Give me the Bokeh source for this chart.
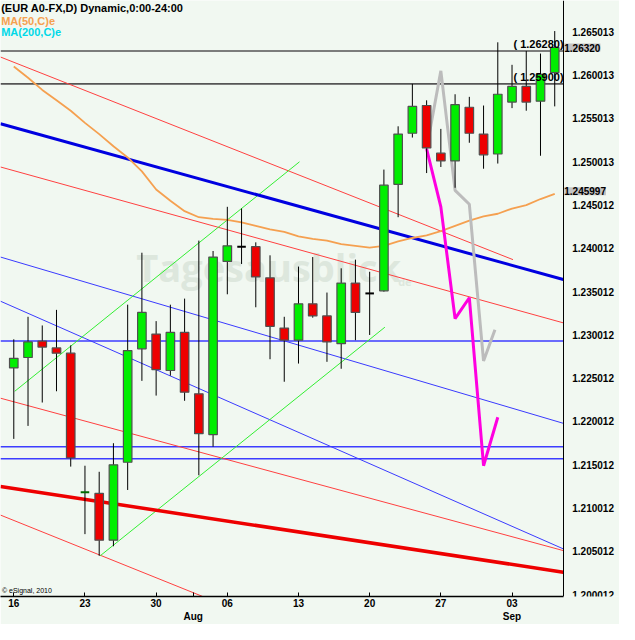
from bokeh.plotting import figure
from bokeh.models import FixedTicker, Label, Range1d, PrintfTickFormatter, LinearAxis
from bokeh.embed import file_html
from bokeh.resources import INLINE

# ---- data (bar index 0 = Fri 16 Jul 2010) ----
bar_idx = list(range(39))
opens = [1.2262, 1.2274, 1.2293, 1.2285, 1.2279, 1.2118, 1.2117, 1.2063, 1.2153, 1.2284,
         1.2301, 1.2259, 1.2303, 1.2232, 1.2185, 1.2385, 1.2402, 1.2402, 1.2366, 1.2308,
         1.2294, 1.2336, 1.2322, 1.2290, 1.2360, 1.2348, 1.2351, 1.2474, 1.2533, 1.2565,
         1.2510, 1.2501, 1.2563, 1.2532, 1.2509, 1.2569, 1.2587, 1.2570, 1.2603]
highs = [1.2295, 1.2321, 1.2311, 1.2329, 1.2288, 1.2149, 1.2142, 1.2175, 1.2335, 1.2395,
         1.2316, 1.2335, 1.2342, 1.2409, 1.2397, 1.2448, 1.2446, 1.2407, 1.2392, 1.2321,
         1.2379, 1.2390, 1.2349, 1.2377, 1.2387, 1.2373, 1.2491, 1.2541, 1.2590, 1.2571,
         1.2538, 1.2578, 1.2575, 1.2565, 1.2638, 1.2612, 1.2628, 1.2625, 1.2651]
lows = [1.2180, 1.2195, 1.2222, 1.2235, 1.2148, 1.2070, 1.2045, 1.2056, 1.2121, 1.2247,
        1.2230, 1.2253, 1.2224, 1.2138, 1.2171, 1.2347, 1.2382, 1.2332, 1.2272, 1.2246,
        1.2267, 1.2320, 1.2269, 1.2261, 1.2294, 1.2300, 1.2350, 1.2436, 1.2528, 1.2487,
        1.2494, 1.2470, 1.2522, 1.2492, 1.2498, 1.2562, 1.2559, 1.2507, 1.2564]
closes = [1.2273, 1.2292, 1.2286, 1.2279, 1.2158, 1.2119, 1.2063, 1.2150, 1.2282, 1.2326,
          1.2260, 1.2303, 1.2234, 1.2186, 1.2390, 1.2403, 1.2402, 1.2367, 1.2310, 1.2294,
          1.2336, 1.2322, 1.2292, 1.2360, 1.2326, 1.2348, 1.2473, 1.2532, 1.2564, 1.2516,
          1.2501, 1.2566, 1.2533, 1.2508, 1.2578, 1.2587, 1.2569, 1.2601, 1.2632]
ma50 = [1.2610, 1.2597, 1.2583, 1.2571, 1.2559, 1.2545, 1.2532, 1.2518, 1.2505, 1.2489,
        1.2468, 1.2455, 1.2443, 1.2436, 1.2434, 1.2433, 1.2430, 1.2426, 1.2422, 1.2419,
        1.2414, 1.2411, 1.2409, 1.2405, 1.2403, 1.2401, 1.2403, 1.2408, 1.2412, 1.2415,
        1.2420, 1.2426, 1.2432, 1.2437, 1.2440, 1.2446, 1.2450, 1.2457, 1.2463]

x_ticks = [0, 5, 10, 12.6, 15, 20, 25, 30, 35]
x_tick_labels = ["16", "23", "30", "\nAug", "06", "13", "20", "27", "03\nSep"]
y_ticks = [1.265013, 1.260013, 1.255013, 1.250013, 1.245012, 1.240012, 1.235012,
           1.230012, 1.225012, 1.220012, 1.215012, 1.210012, 1.205012, 1.200012]

# trend lines: (x0, y0, x1, y1) in bar index / price
thick_blue = (-0.933, 1.2544, 38.6, 1.2364)
thick_red = (-0.933, 1.2125, 38.6, 1.2026)
thin_red = [(-0.933, 1.2621, 35.07, 1.2387),
            (-0.933, 1.2494, 38.6, 1.2314),
            (-0.933, 1.2227, 38.6, 1.2051),
            (-0.933, 1.2092, 13.27, 1.1998)]
thin_blue = [(-0.933, 1.2390, 38.6, 1.2198),
             (-0.933, 1.2339, 38.6, 1.2053)]
green_channel = [(0.07, 1.2235, 20.07, 1.2500),
                 (6.07, 1.2045, 26.07, 1.2309)]
blue_levels = [1.2293, 1.2171, 1.2157]
gray_levels = [1.2628, 1.2590]
gray_level_labels = ["( 1.26280)", "( 1.25900)"]
magenta_x = [29, 30, 31, 32, 33, 34]
magenta_y = [1.2515, 1.2448, 1.2319, 1.2343, 1.2149, 1.2205]
gray_x = [29, 30, 31, 32, 33, 33.8]
gray_y = [1.2515, 1.2605, 1.2467, 1.2451, 1.2270, 1.2306]
last_close_label = "1.26320"
ma_last_label = "1.245997"
ma_last_value = 1.2466

BG = "#f1f8f1"
X0, AXIS_X, X_END = -0.933, 38.6, 42.55
Y0, Y1 = 1.199798, 1.268628

p = figure(width=619, height=624, x_range=Range1d(X0, X_END), y_range=Range1d(Y0, Y1),
           y_axis_location=None, output_backend="svg", toolbar_location=None,
           background_fill_color=BG, border_fill_color=BG,
           min_border_left=0, min_border_top=0, min_border_right=0, min_border_bottom=0,
           outline_line_color=None)
p.grid.visible = False

# watermark
p.add_layout(Label(x=8.6, y=1.2378, text="Tagesausblick", text_font="Open Sans",
                   text_font_size="38px", text_font_style="bold", text_color="#dde7dd",
                   text_baseline="middle", level="underlay"))
p.add_layout(Label(x=27.0, y=1.2362, text="de", text_font="Open Sans",
                   text_font_size="11px", text_font_style="bold", text_color="#dde7dd",
                   text_baseline="middle", level="underlay"))

# levels
for lv in blue_levels:
    p.segment(x0=[X0], y0=[lv], x1=[AXIS_X], y1=[lv], line_color="#3d3dff", line_width=1.6)
for lv in gray_levels:
    p.segment(x0=[X0], y0=[lv], x1=[AXIS_X], y1=[lv], line_color="#555555", line_width=1.6)

# trend lines
for (a, b, c, d) in thin_red:
    p.segment(x0=[a], y0=[b], x1=[c], y1=[d], line_color="#ff4040", line_width=1)
for (a, b, c, d) in thin_blue:
    p.segment(x0=[a], y0=[b], x1=[c], y1=[d], line_color="#3a3aff", line_width=1)
for (a, b, c, d) in green_channel:
    p.segment(x0=[a], y0=[b], x1=[c], y1=[d], line_color="#33ee33", line_width=1)
p.segment(x0=[thick_blue[0]], y0=[thick_blue[1]], x1=[thick_blue[2]], y1=[thick_blue[3]],
          line_color="#0000e0", line_width=3)
p.segment(x0=[thick_red[0]], y0=[thick_red[1]], x1=[thick_red[2]], y1=[thick_red[3]],
          line_color="#ee0000", line_width=3.5)

# MA50
p.line(bar_idx, ma50, line_color="#f5a050", line_width=1.8)

# projections
p.line(gray_x, gray_y, line_color="#bcbcbc", line_width=3)
p.line(magenta_x, magenta_y, line_color="#ff00e0", line_width=3)

# candles
p.segment(x0=bar_idx, y0=lows, x1=bar_idx, y1=highs, line_color="#000000", line_width=1)
bx, bt, bb, bc = [], [], [], []
dx, dy, dc = [], [], []
for i, o, c in zip(bar_idx, opens, closes):
    if abs(c - o) < 0.00015:
        dx.append(i); dy.append((o + c) / 2)
        dc.append("#006a00" if c > o else "#000000")
    else:
        bx.append(i); bt.append(max(o, c)); bb.append(min(o, c))
        bc.append("#00ee00" if c > o else "#ee0000")
p.vbar(x=bx, top=bt, bottom=bb, width=0.6, fill_color=bc, line_color="#505050",
       line_width=1.2)
p.segment(x0=[x - 0.3 for x in dx], y0=dy, x1=[x + 0.3 for x in dx], y1=dy,
          line_color=dc, line_width=2)

# texts
FONT = "Liberation Sans"
p.add_layout(Label(x=X0 + 0.05, y=1.2684, text="(EUR A0-FX,D) Dynamic,0:00-24:00",
                   text_font=FONT, text_font_size="11px", text_font_style="bold",
                   text_color="#000000", text_baseline="top"))
p.add_layout(Label(x=X0 + 0.05, y=1.2670, text="MA(50,C)e", text_font=FONT,
                   text_font_size="11px", text_font_style="bold", text_color="#f5a050",
                   text_baseline="top"))
p.add_layout(Label(x=X0 + 0.05, y=1.26565, text="MA(200,C)e", text_font=FONT,
                   text_font_size="11px", text_font_style="bold", text_color="#00d8e8",
                   text_baseline="top"))
p.add_layout(Label(x=X0 + 0.1, y=1.2005, text="\u00a9 eSignal, 2010", text_font=FONT,
                   text_font_size="7px", text_color="#000000", text_baseline="middle"))
for lv, txt in zip(gray_levels, gray_level_labels):
    p.add_layout(Label(x=35.1, y=lv, y_offset=1, text=txt, text_font=FONT,
                       text_font_size="11px", text_font_style="bold", text_color="#000000",
                       text_baseline="bottom"))

# value boxes on the price axis
for val, txt in [(closes[-1], last_close_label), (ma_last_value, ma_last_label)]:
    p.add_layout(Label(x=AXIS_X, x_offset=1, y=val, text=txt, text_font=FONT,
                       text_font_size="10px", text_font_style="bold", text_color="#000000",
                       text_baseline="middle", background_fill_color="#c4c4c4",
                       level="overlay"))

# price axis (fixed inside the frame so the value boxes can sit on it)
ya = LinearAxis(fixed_location=AXIS_X)
ya.ticker = FixedTicker(ticks=y_ticks)
ya.formatter = PrintfTickFormatter(format="%.6f")
ya.major_tick_line_color = None
ya.minor_tick_line_color = None
ya.axis_line_color = "#000000"
ya.major_label_text_font = FONT
ya.major_label_text_font_size = "10px"
ya.major_label_text_font_style = "bold"
ya.major_label_text_color = "#000000"
ya.major_label_standoff = 3
p.add_layout(ya, "right")

xa = p.xaxis[0]
xa.bounds = (X0, AXIS_X)
xa.ticker = FixedTicker(ticks=x_ticks, minor_ticks=[])
xa.major_label_overrides = {t: s for t, s in zip(x_ticks, x_tick_labels)}
xa.major_tick_in = 4
xa.major_tick_out = 0
xa.major_tick_line_color = "#000000"
xa.axis_line_color = "#000000"
xa.axis_line_width = 1.5
xa.major_label_text_font = FONT
xa.major_label_text_font_size = "10px"
xa.major_label_text_font_style = "bold"
xa.major_label_text_color = "#000000"
xa.major_label_standoff = 1

open("out.html", "w").write(file_html(p, INLINE))
